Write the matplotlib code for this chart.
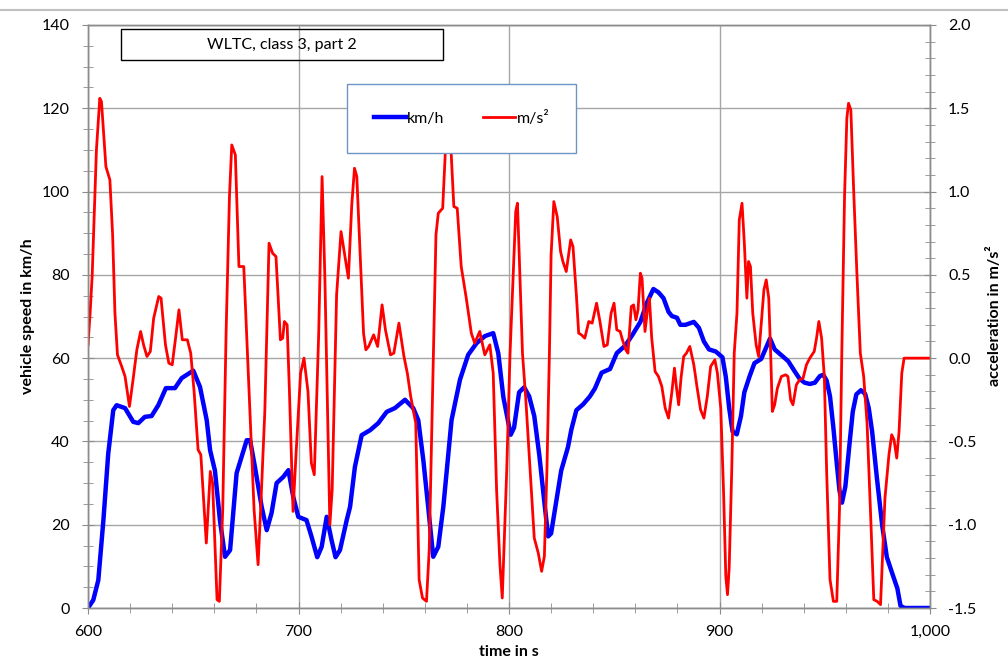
import matplotlib
matplotlib.use("Agg")
import matplotlib.pyplot as plt
from matplotlib.ticker import MultipleLocator, FuncFormatter
from matplotlib.lines import Line2D
from matplotlib.patches import Rectangle

plt.rcParams['font.family'] = ['Lato', 'DejaVu Sans']

# vehicle speed (km/h)
speed_t = [600, 602.5, 604.9, 607.3, 609.6, 612, 613.6, 617.6, 621.5, 623.9, 627, 630.2,
           633.4, 637, 641.3, 644.5, 650, 653.2, 656.4, 658, 660.3, 662.7, 665.1, 667.5,
           670.6, 675.4, 677, 679.3, 682.5, 684.9, 687.2, 689.6, 692.8, 695.2, 697.5,
           699.9, 703.8, 706.2, 708.9, 711, 713.4, 715.7, 717.6, 719.7, 722.9, 724.5,
           726.8, 730, 734, 737.9, 741.9, 745.8, 750.6, 754.5, 756.9, 759.3, 761.6, 764,
           766.4, 768.8, 772.7, 776.7, 780.6, 784.6, 788.6, 792.5, 794.9, 797.3, 800.8,
           802.4, 804.8, 807.2, 809.6, 812, 814.4, 816.8, 818.6, 820, 822.4, 824.8, 828,
           829.6, 832, 835.2, 838.4, 840.8, 844, 848, 851.2, 855.2, 858.4, 862.4, 865.6,
           868.6, 871, 873.4, 875.8, 877.4, 879.8, 881.4, 883.8, 887.8, 890.2, 892.6, 895,
           898.2, 901.4, 903, 904.6, 906.2, 908.2, 910.2, 911.8, 914.2, 916.6, 919.8, 922.2,
           924, 926.2, 929.4, 932.6, 935.5, 938.1, 940.5, 942.9, 945.3, 947.7, 949.3,
           950.9, 952.5, 954.1, 955.5, 957, 958.2, 959.8, 961.6, 963.3, 965, 967.2, 969.2,
           970.9, 972.5, 974.8, 977.3, 979.5, 982, 984.5, 986, 988, 1000]
speed_v = [0, 1.9, 6.7, 21, 37, 47.5, 48.7, 48, 44.7, 44.4, 45.9, 46.1,
           48.7, 52.8, 52.8, 55.2, 57, 53.1, 45.1, 37.9, 33, 21, 12.3, 13.9,
           32.4, 40.3, 40.3, 33.9, 24.3, 18.7, 22.8, 30, 31.5, 33.1, 26.7,
           21.9, 21.1, 17.1, 12.2, 14.7, 21.9, 16.3, 12.2, 13.9, 21.1, 24.3,
           33.9, 41.5, 42.7, 44.4, 47.1, 48, 50, 48, 45.1, 35.5, 24.3, 12.3,
           14.7, 24.3, 45.1, 54.8, 60.8, 63.6, 65.3, 66, 61.2, 50.7, 41.6,
           43.3, 51.8, 53, 50.8, 46.1, 36.7, 25.4, 17.2, 17.9, 25.4, 33, 38.6,
           42.8, 47.5, 48.9, 50.8, 52.7, 56.5, 57.4, 61.2, 63, 65.4, 68.7, 73.4,
           76.6, 75.8, 74.4, 71.1, 70.1, 69.7, 68, 68, 68.7, 67.3, 64, 62.1,
           61.6, 60.2, 55.5, 48, 42.4, 41.7, 46.1, 51.8, 55.5, 58.8, 59.8, 62.6,
           64.7, 62.1, 60.7, 59.3, 57, 55, 54.1, 53.8, 54.1, 55.7, 56,
           54.6, 50.8, 43.3, 35.8, 28.2, 25.3, 29.2, 38.6, 47.1, 51.3, 52.3, 51.4,
           48, 42.4, 31.1, 19.8, 12.2, 8.4, 4.7, 0.5, 0, 0]

# acceleration (m/s²)
acc_t = [600, 601, 602, 604, 605.6, 606.4, 608.5, 610.4, 611.7, 612.8, 614, 616, 617.6,
         619.7, 621.6, 623.2, 625, 626.4, 628, 629.6, 631.2, 633.6, 634.7, 636.8, 638.4,
         640, 641.6, 643.2, 644.8, 647.2, 648.8, 650.4, 652.3, 653.6, 656.2, 658.1,
         659.2, 661.3, 662.4, 664, 665.6, 667.2, 668.3, 670, 671.7, 674, 676.5, 678.9,
         680.8, 682, 684, 686, 687.7, 689.3, 691.4, 692.5, 693.3, 694.6, 695.7, 697.4,
         698.9, 701, 702.6, 704.5, 706.1, 707.5, 709.6, 711.2, 712.5, 714.9, 716, 718.1,
         720.2, 723.7, 725.3, 726.6, 727.7, 729.3, 730.9, 732, 733.3, 735.7, 737.6,
         739.7, 741.3, 743.7, 745.3, 747.7, 750.1, 751.7, 753.3, 755.7, 757.3, 758.9,
         760.8, 762.1, 763.7, 765.3, 766.4, 768.5, 769.8, 771.2, 772.8, 773.8, 775.4,
         777.3, 779.7, 782.1, 783.7, 786.1, 788.5, 790.9, 792.5, 794.1, 795.7, 796.8,
         798.9, 800.5, 802, 803.2, 804, 804.8, 806.4, 808, 810.4, 812, 813.9, 815.5,
         816.8, 818, 819.2, 820, 821.3, 822.9, 824.5, 825.6, 827.2, 829.3, 830.4, 832,
         833.1, 834.4, 836, 837.9, 839.5, 841.6, 843.2, 845.1, 846.7, 848.5, 849.9,
         851.2, 852.8, 853.9, 855.5, 856.5, 858.1, 859.2, 860.3, 861.3, 862.4, 863.2,
         864.6, 865.8, 866.7, 867.8, 869.4, 871, 872.6, 874.2, 875.8, 877.4, 878.6,
         879.5, 880.6, 881.8, 883, 884.3, 885.9, 887.8, 889.4, 891, 892.6, 894.2, 895.8,
         897.8, 899, 900.6, 901.9, 903, 903.8, 904.6, 905.8, 907, 908.3, 909.4, 910.7,
         911.8, 913, 913.8, 914.7, 915.8, 917.4, 918.6, 919.8, 921.1, 922.2, 923.4,
         924.3, 925.1, 926.2, 927.5, 929.4, 931.4, 932.5, 933.8, 934.9, 936.5, 938.1,
         939.7, 941.3, 942.9, 945, 946.1, 947.2, 948.5, 949.8, 950.9, 952.5, 954.1,
         955.7, 957, 958.1, 959.4, 960.5, 961.3, 962.4, 963.7, 965.3, 966.9, 968.5,
         970.1, 971.7, 973.3, 974.9, 976.5, 977.6, 978.6, 980.5, 981.8, 982.9, 984.2,
         985.3, 986.6, 987.7, 1000]
acc_v = [0.08, 0.27, 0.5, 1.25, 1.56, 1.54, 1.15, 1.07, 0.74, 0.27, 0.02, -0.05, -0.11,
         -0.29, -0.11, 0.05, 0.16, 0.08, 0.01, 0.04, 0.24, 0.37, 0.36, 0.08, -0.03,
         -0.04, 0.12, 0.29, 0.11, 0.11, 0.03, -0.2, -0.55, -0.58, -1.11, -0.68,
         -0.75, -1.45, -1.46, -0.91, 0.15, 0.97, 1.28, 1.22, 0.55, 0.55, -0.2, -0.91,
         -1.24, -0.91, -0.32, 0.69, 0.63, 0.61, 0.11, 0.12, 0.22, 0.2, -0.2, -0.92,
         -0.56, -0.09, 0.0, -0.2, -0.63, -0.7, 0.15, 1.09, 0.5, -1.0, -0.79, 0.38,
         0.76, 0.48, 0.92, 1.14, 1.09, 0.62, 0.15, 0.05, 0.07, 0.14, 0.07,
         0.32, 0.17, 0.02, 0.03, 0.21, 0.01, -0.09, -0.23, -0.39, -1.33, -1.44,
         -1.46, -1.15, -0.2, 0.74, 0.87, 0.9, 1.25, 1.6, 1.16, 0.91, 0.9,
         0.55, 0.36, 0.15, 0.09, 0.16, 0.02, 0.08, -0.09, -0.79, -1.24, -1.44,
         -0.68, 0.03, 0.5, 0.88, 0.93, 0.64, 0.03, -0.25, -0.75, -1.08, -1.17, -1.28,
         -1.19, -0.68, 0.03, 0.62, 0.94, 0.85, 0.64, 0.58, 0.52, 0.71, 0.67, 0.38,
         0.15, 0.14, 0.12, 0.22, 0.21, 0.33, 0.22, 0.07, 0.08, 0.27, 0.33,
         0.17, 0.16, 0.11, 0.05, 0.03, 0.31, 0.32, 0.23, 0.29, 0.51, 0.48,
         0.16, 0.29, 0.36, 0.12, -0.08, -0.11, -0.17, -0.3, -0.36, -0.2, -0.06,
         -0.17, -0.28, -0.11, 0.01, 0.03, 0.07, -0.04, -0.18, -0.31, -0.36, -0.23, -0.05,
         -0.01, -0.09, -0.3, -0.79, -1.31, -1.42, -1.26, -0.68, 0.03, 0.27, 0.83, 0.93,
         0.69, 0.36, 0.58, 0.55, 0.27, 0.08, 0.01, 0.2, 0.41, 0.47, 0.36,
         0.03, -0.32, -0.28, -0.18, -0.11, -0.1, -0.11, -0.25, -0.28, -0.16, -0.13,
         -0.12, -0.04, 0.0, 0.04, 0.12, 0.22, 0.12, -0.11, -0.68, -1.33, -1.46,
         -1.46, -0.91, 0.03, 0.97, 1.44, 1.53, 1.49, 1.02, 0.5, 0.03, -0.11,
         -0.39, -0.91, -1.45, -1.46, -1.48, -1.15, -0.84, -0.58, -0.46, -0.49, -0.6,
         -0.44, -0.09, 0.0, 0.0]

W, H = 1008, 661
fig = plt.figure(figsize=(W / 100, H / 100), dpi=100)
ax1 = fig.add_axes([88 / W, 1 - 608 / H, 842 / W, 583 / H])
ax2 = ax1.twinx()

grey = '#8c8c8c'

ax1.plot(speed_t, speed_v, color='#0000ff', lw=3.2, solid_joinstyle='round', label='km/h')
ax2.plot(acc_t, acc_v, color='#ff0000', lw=2.0, solid_joinstyle='round', label='m/s²')

ax1.set_xlim(600, 1000)
ax1.set_ylim(0, 140)
ax2.set_ylim(-1.5, 2.0)

ax1.xaxis.set_major_locator(MultipleLocator(100))
ax1.xaxis.set_minor_locator(MultipleLocator(20))
ax1.yaxis.set_major_locator(MultipleLocator(20))
ax1.yaxis.set_minor_locator(MultipleLocator(5))
ax2.yaxis.set_major_locator(MultipleLocator(0.5))
ax2.yaxis.set_minor_locator(MultipleLocator(0.1))
ax1.xaxis.set_major_formatter(FuncFormatter(lambda v, p: f'{v:,.0f}'))
ax2.yaxis.set_major_formatter(FuncFormatter(lambda v, p: f'{v:.1f}'))

ax1.grid(True, which='major', color='#a6a6a6', lw=1)
ax1.set_axisbelow(True)

for ax in (ax1, ax2):
    for s in ax.spines.values():
        s.set_color(grey)
        s.set_linewidth(1)
    ax.tick_params(which='both', direction='inout', color=grey, labelsize=11.5,
                   labelcolor='black')
    ax.tick_params(which='major', length=8)
    ax.tick_params(which='minor', length=7)
ax1.tick_params(axis='x', pad=8)
ax1.tick_params(axis='y', pad=9)
ax2.tick_params(axis='y', pad=9)

fig.text(28 / W, 1 - 316 / H, 'vehicle speed in km/h', rotation=90, ha='center',
         va='center', fontsize=11.5, fontweight='bold')
fig.text(995 / W, 1 - 316 / H, 'acceleration in m/s²', rotation=90, ha='center',
         va='center', fontsize=11.5, fontweight='bold')
fig.text(509 / W, 1 - 652 / H, 'time in s', ha='center', va='center',
         fontsize=11.5, fontweight='bold')

# title box
fig.patches.append(Rectangle((121 / W, 1 - 60 / H), 322 / W, 31 / H, fill=False,
                             edgecolor='black', lw=1, transform=fig.transFigure))
fig.text(282 / W, 1 - 45 / H, 'WLTC, class 3, part 2', ha='center', va='center',
         fontsize=11.5)

# chart area border line at top
fig.add_artist(Line2D([0, 1], [1 - 10 / H, 1 - 10 / H], color='#c0c0c0', lw=1.5,
                      transform=fig.transFigure))

h1, l1 = ax1.get_legend_handles_labels()
h2, l2 = ax2.get_legend_handles_labels()
leg = ax2.legend(h1 + h2, l1 + l2, loc='center', ncol=2,
                 bbox_to_anchor=(461.5 / W, 1 - 118.5 / H), bbox_transform=fig.transFigure,
                 frameon=True, fancybox=False, fontsize=11.5, borderpad=1.7,
                 handlelength=2.0, handletextpad=0.1, columnspacing=2.4,
                 borderaxespad=0)
leg.get_frame().set_edgecolor('#6f94c8')
leg.get_frame().set_linewidth(1)
leg.get_frame().set_alpha(1)

fig.savefig('out.png', dpi=100)
